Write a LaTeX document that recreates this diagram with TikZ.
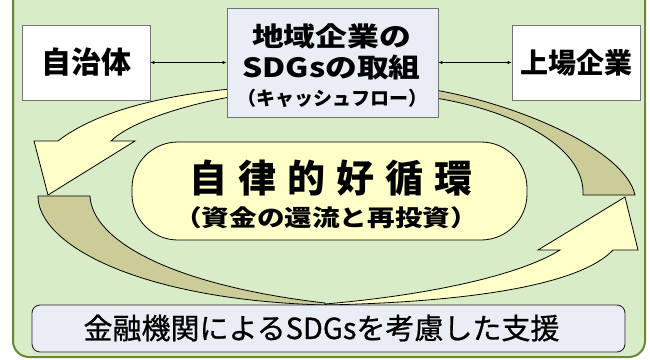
\documentclass[tikz,border=0pt]{standalone}
\usepackage{fontspec}
\usepackage{graphicx}
\newfontfamily\jp{Noto Sans CJK JP}
\newfontfamily\jpmed{Noto Sans CJK JP}[FakeBold=0.8]
\usetikzlibrary{arrows.meta}
\definecolor{bggreen}{RGB}{216,236,200}
\definecolor{olivebd}{RGB}{105,135,55}
\definecolor{ylw}{RGB}{255,255,200}
\definecolor{khaki}{RGB}{204,204,153}
\definecolor{boxblue}{RGB}{233,237,245}
\definecolor{boxgray}{RGB}{115,115,115}
\begin{document}
\begin{tikzpicture}[x=1pt,y=-1pt,font=\jp,
  wbox/.style={draw=boxgray,line width=0.9pt,fill=white,minimum width=128pt,minimum height=75pt,inner sep=0pt},
  bbox/.style={draw=boxgray,line width=0.9pt,fill=boxblue,inner sep=0pt},
  link/.style={{Latex[length=4pt,width=3.5pt]}-{Latex[length=4pt,width=3.5pt]},line width=0.7pt},
  ribbon/.style={draw=black,line width=0.8pt,line join=miter},
  txt/.style={inner sep=0pt}]
\useasboundingbox (0,0) rectangle (650,359);
\begin{scope}
\clip (0,0) rectangle (650,359);
\draw[line width=2pt,draw=olivebd,fill=bggreen,rounded corners=16pt] (13,-30) rectangle (645,357);
\end{scope}
% ribbons (back side)
\path[ribbon,fill=khaki] (435,90) .. controls (520,105) and (625,150) .. (635,195) -- (583,195) -- (583,190) .. controls (580,140) and (500,108) .. (435,98) -- cycle;
\path[ribbon,fill=khaki] (38,196) .. controls (38,245) and (140,300) .. (325,305) -- (325,303) .. controls (170,285) and (92,240) .. (90,196) -- cycle;
% ribbons (front side, arrows)
\path[ribbon,fill=ylw] (230,89) .. controls (160,96) and (95,112) .. (58,141) -- (34,141) -- (48,195) -- (135,141) -- (111,141) .. controls (130,122) and (185,105) .. (230,97) -- cycle;
\path[ribbon,fill=ylw] (325,304) .. controls (430,295) and (520,275) .. (560,250) -- (538,250) -- (625,197) -- (638,250) -- (613,250) .. controls (580,285) and (470,302) .. (325,305) -- cycle;
% boxes
\node[wbox] (ziti) at (86,62.5) {\fontsize{30}{30}\selectfont\bfseries 自治体};
\node[wbox] (jojo) at (576,62.5) {\fontsize{28}{28}\selectfont\bfseries 上場企業};
\node[bbox,minimum width=211pt,minimum height=109pt] (mid) at (332.5,62.5) {};
\node[txt] (mid1) at (331.5,36.5) {\fontsize{26.5}{26.5}\selectfont\bfseries\scalebox{1.2}[1]{地域企業の}};
\node[txt] (mid2) at (331.5,67.5) {\fontsize{26.5}{26.5}\selectfont\bfseries\scalebox{1.2}[1]{SDGsの取組}};
\node[txt] (mid3) at (332,98.5) {\fontsize{19}{19}\selectfont\bfseries （キャッシュフロー）};
\draw[link] (ziti) -- (mid);
\draw[link] (mid) -- (jojo);
% central cycle
\node[draw=black,line width=0.8pt,fill=ylw,rounded corners=46pt,minimum width=395pt,minimum height=98pt,inner sep=0pt] (cyc) at (329.5,191) {};
\node[txt] (cyc1) at (331,178) {\fontsize{38}{38}\selectfont\bfseries 自\hspace{11pt}律\hspace{11pt}的\hspace{11pt}好\hspace{11pt}循\hspace{11pt}環};
\node[txt] (cyc2) at (326,218) {\fontsize{23}{23}\selectfont\bfseries\scalebox{1.2}[1]{（資金の還流と再投資）}};
% bottom
\node[draw=black!85,line width=0.9pt,fill=boxblue,rounded corners=8pt,minimum width=593pt,minimum height=47pt,inner sep=0pt] (fin) at (328.5,328.5) {};
\node[txt] (fint) at (321.5,328) {\jpmed\fontsize{29}{29}\selectfont 金融機関によるSDGsを考慮した支援};
\end{tikzpicture}
\end{document}
